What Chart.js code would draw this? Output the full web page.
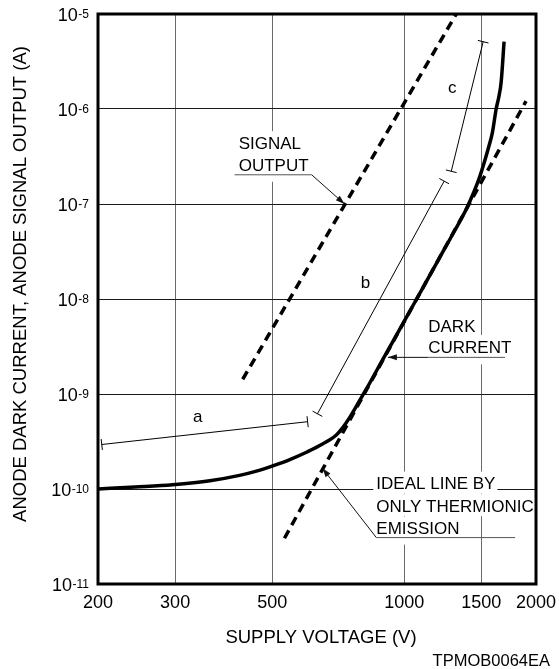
<!DOCTYPE html>
<html>
<head>
<meta charset="utf-8">
<title>Dark current vs supply voltage</title>
<script src="https://cdn.jsdelivr.net/npm/chart.js@4.4.1/dist/chart.umd.min.js"></script>
<style>
  html, body { margin: 0; padding: 0; background: #fff; }
  canvas { display: block; }
</style>
</head>
<body>
<canvas id="chart" width="559" height="669"></canvas>
<script>
// --- axes ---
const voltageTicks = [200, 300, 500, 1000, 1500, 2000];
const currentExponents = [-5, -6, -7, -8, -9, -10, -11];

// --- curves (V, A) ---
const darkVoltage = [200, 243, 296, 360, 421, 460, 503, 550, 600, 651, 700, 725, 750, 780, 820, 900, 1000, 1100, 1200, 1300, 1392, 1484, 1563, 1591, 1622, 1647, 1665, 1691];
const darkCurrent = [1.0e-10, 1.05e-10, 1.11e-10, 1.22e-10, 1.39e-10, 1.54e-10, 1.76e-10, 2.05e-10, 2.45e-10, 2.97e-10, 3.7e-10, 4.45e-10, 5.6e-10, 7.6e-10, 1.13e-9, 2.45e-9, 5.8e-9, 1.28e-8, 2.63e-8, 5.1e-8, 9.2e-8, 1.87e-7, 4.12e-7, 5.71e-7, 1.0e-6, 1.38e-6, 1.91e-6, 5.11e-6];

const signalVoltage = [428, 1315];
const signalCurrent = [1.43e-9, 1e-5];

const idealVoltage = [533, 1898];
const idealCurrent = [3.03e-11, 1.21e-6];

// dimension lines a, b, c
const aVoltage = [204, 602];
const aCurrent = [2.94e-10, 5.11e-10];
const bVoltage = [634, 1234];
const bCurrent = [6.19e-10, 1.74e-7];
const cVoltage = [1281, 1515];
const cCurrent = [2.21e-7, 5.11e-6];

// letters for the dimension lines, anchored in data space
const spanLabels = [
  { text: 'a', v: 338, i: 5.75e-10 },
  { text: 'b', v: 816, i: 1.47e-8 },
  { text: 'c', v: 1287, i: 1.66e-6 }
];

// callouts: text lines, underline and leader arrow (anchored in data space)
const callouts = [
  { lines: ['SIGNAL', 'OUTPUT'], v: 419, rows: [4.37e-7, 2.58e-7],
    under: [410, 615, 2.03e-7], from: 615, tip: [731, 1e-7] },
  { lines: ['DARK', 'CURRENT'], v: 1135, rows: [5.18e-9, 3.13e-9],
    under: [1135, 1700, 2.43e-9], from: 1135, tip: [918, 2.43e-9] },
  { lines: ['IDEAL LINE BY', 'ONLY THERMIONIC', 'EMISSION'], v: 864, rows: [1.14e-10, 6.59e-11, 3.82e-11],
    under: [864, 1792, 3.08e-11], from: 864, tip: [651, 1.65e-10] }
];

const FONT = '"Liberation Sans", Arial, Helvetica, sans-serif';
const font = size => `${size}px ${FONT}`;
const pts = (xs, ys) => xs.map((x, k) => ({ x: x, y: ys[k] }));

function arrow(ctx, x0, y0, x1, y1) {
  ctx.beginPath();
  ctx.moveTo(x0, y0);
  ctx.lineTo(x1, y1);
  ctx.stroke();
  const ang = Math.atan2(y1 - y0, x1 - x0);
  const len = 9, w = 3;
  const bx = x1 - len * Math.cos(ang), by = y1 - len * Math.sin(ang);
  ctx.beginPath();
  ctx.moveTo(x1, y1);
  ctx.lineTo(bx + w * Math.sin(ang), by - w * Math.cos(ang));
  ctx.lineTo(bx - w * Math.sin(ang), by + w * Math.cos(ang));
  ctx.closePath();
  ctx.fill();
}

const figurePlugin = {
  id: 'figure',
  beforeDatasetsDraw(chart) {
    const ctx = chart.ctx, xs = chart.scales.x, ys = chart.scales.y;
    ctx.save();
    ctx.font = font(17);
    ctx.textAlign = 'left';
    ctx.textBaseline = 'middle';
    callouts.forEach(c => {
      const x = xs.getPixelForValue(c.v);
      const uy = ys.getPixelForValue(c.under[2]);
      c.lines.forEach((t, k) => {
        const y = ys.getPixelForValue(c.rows[k]);
        const w = ctx.measureText(t).width;
        const bottom = k === c.lines.length - 1 ? uy + 7 : y + 10;
        ctx.fillStyle = '#fff';
        ctx.fillRect(x - 3, y - 12, w + 5, bottom - (y - 12));
      });
      c.lines.forEach((t, k) => {
        ctx.fillStyle = '#000';
        ctx.fillText(t, x, ys.getPixelForValue(c.rows[k]) + 1);
      });
    });
    ctx.restore();
  },
  afterDatasetsDraw(chart) {
    const ctx = chart.ctx, xs = chart.scales.x, ys = chart.scales.y, area = chart.chartArea;
    ctx.save();

    // end caps of the dimension lines
    ctx.strokeStyle = '#000';
    ctx.lineWidth = 1;
    [3, 4, 5].forEach(idx => {
      const p = chart.getDatasetMeta(idx).data;
      const dx = p[1].x - p[0].x, dy = p[1].y - p[0].y;
      const len = Math.hypot(dx, dy);
      const nx = -dy / len * 5.5, ny = dx / len * 5.5;
      p.forEach(q => {
        ctx.beginPath();
        ctx.moveTo(q.x - nx, q.y - ny);
        ctx.lineTo(q.x + nx, q.y + ny);
        ctx.stroke();
      });
    });

    // letters a, b, c
    ctx.fillStyle = '#000';
    ctx.font = font(17);
    ctx.textAlign = 'center';
    ctx.textBaseline = 'middle';
    spanLabels.forEach(l => ctx.fillText(l.text, xs.getPixelForValue(l.v), ys.getPixelForValue(l.i)));

    // underlines and leader arrows
    callouts.forEach(c => {
      const uy = ys.getPixelForValue(c.under[2]);
      ctx.strokeStyle = '#555';
      ctx.beginPath();
      ctx.moveTo(xs.getPixelForValue(c.under[0]), uy);
      ctx.lineTo(xs.getPixelForValue(c.under[1]), uy);
      ctx.stroke();
      ctx.strokeStyle = '#111';
      ctx.fillStyle = '#111';
      arrow(ctx, xs.getPixelForValue(c.from), uy,
        xs.getPixelForValue(c.tip[0]), ys.getPixelForValue(c.tip[1]));
    });

    // frame
    ctx.strokeStyle = '#000';
    ctx.lineWidth = 3;
    ctx.strokeRect(area.left, area.top, area.right - area.left, area.bottom - area.top);

    // x tick labels
    ctx.fillStyle = '#000';
    ctx.font = font(18);
    ctx.textAlign = 'center';
    ctx.textBaseline = 'alphabetic';
    voltageTicks.forEach(v => ctx.fillText(String(v), xs.getPixelForValue(v), 608));

    // y tick labels 10^n
    const right = area.left - 9;
    currentExponents.forEach(e => {
      const y = ys.getPixelForValue(Math.pow(10, e));
      const sup = String(e);
      ctx.font = font(12);
      const sw = ctx.measureText(sup).width;
      ctx.textAlign = 'left';
      ctx.fillText(sup, right - sw, y + 4);
      ctx.font = font(18);
      ctx.textAlign = 'right';
      ctx.fillText('10', right - sw - 0.5, y + 7);
    });

    // axis titles and figure code
    ctx.font = font(18.5);
    ctx.textAlign = 'center';
    ctx.textBaseline = 'middle';
    ctx.fillText('SUPPLY VOLTAGE (V)', 321, 638);
    ctx.save();
    ctx.translate(21, 284);
    ctx.rotate(-Math.PI / 2);
    ctx.fillText('ANODE DARK CURRENT, ANODE SIGNAL OUTPUT (A)', 0, 0);
    ctx.restore();
    ctx.font = font(16.5);
    ctx.textAlign = 'right';
    ctx.fillText('TPMOB0064EA', 550, 661);

    ctx.restore();
  }
};

const thin = { showLine: true, borderColor: '#000', borderWidth: 1, pointRadius: 0 };

new Chart(document.getElementById('chart'), {
  type: 'scatter',
  data: {
    datasets: [
      { label: 'Dark current', data: pts(darkVoltage, darkCurrent), showLine: true,
        borderColor: '#000', borderWidth: 3.5, pointRadius: 0, cubicInterpolationMode: 'monotone' },
      { label: 'Signal output', data: pts(signalVoltage, signalCurrent), showLine: true,
        borderColor: '#000', borderWidth: 3.5, borderDash: [9, 6], pointRadius: 0 },
      { label: 'Ideal line', data: pts(idealVoltage, idealCurrent), showLine: true,
        borderColor: '#000', borderWidth: 3.5, borderDash: [9, 6], pointRadius: 0 },
      Object.assign({ label: 'a', data: pts(aVoltage, aCurrent) }, thin),
      Object.assign({ label: 'b', data: pts(bVoltage, bCurrent) }, thin),
      Object.assign({ label: 'c', data: pts(cVoltage, cCurrent) }, thin)
    ]
  },
  options: {
    responsive: false,
    animation: false,
    devicePixelRatio: 1,
    events: [],
    layout: { padding: { left: 98, top: 14, right: 23, bottom: 85 } },
    plugins: { legend: { display: false }, tooltip: { enabled: false } },
    scales: {
      x: {
        type: 'logarithmic', min: 200, max: 2000,
        afterBuildTicks: s => { s.ticks = voltageTicks.map(v => ({ value: v })); },
        ticks: { display: false },
        grid: { color: '#6a6a6a', lineWidth: 1, drawTicks: false },
        border: { display: false }
      },
      y: {
        type: 'logarithmic', min: 1e-11, max: 1e-5,
        afterBuildTicks: s => { s.ticks = currentExponents.map(e => ({ value: Math.pow(10, e) })); },
        ticks: { display: false },
        grid: { color: '#1a1a1a', lineWidth: 1, drawTicks: false },
        border: { display: false }
      }
    }
  },
  plugins: [figurePlugin]
});
</script>
</body>
</html>
